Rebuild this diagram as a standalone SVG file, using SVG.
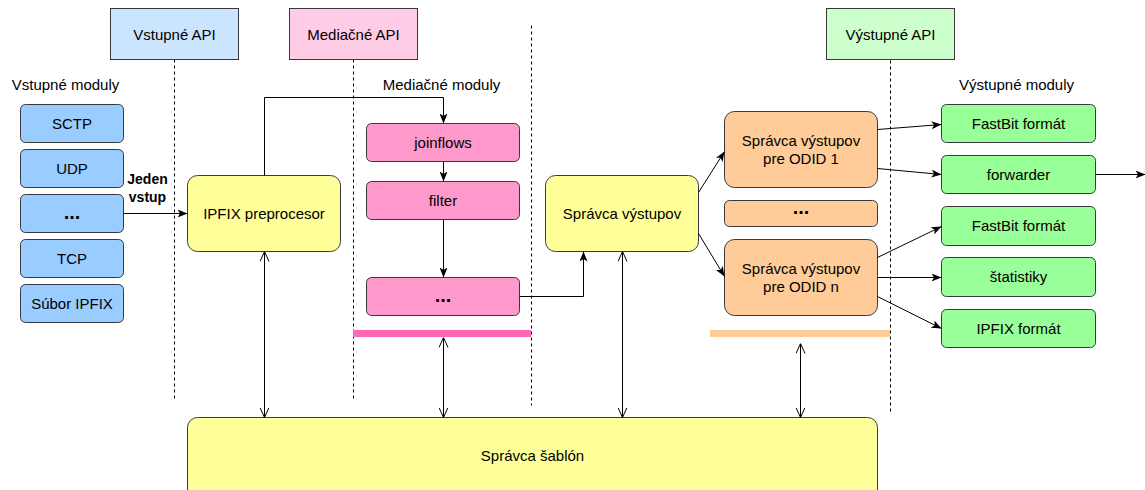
<svg xmlns="http://www.w3.org/2000/svg" width="1145" height="490" viewBox="0 0 1145 490">
<style>
text{font-family:"Liberation Sans",Arial,sans-serif;font-size:15px;fill:#000;text-anchor:middle;dominant-baseline:central}
.b{font-weight:bold}
.dots{font-weight:bold;font-size:20px}
.api{stroke:#36393d;stroke-width:1}
.m{stroke:#36393d;stroke-width:1}
.c{fill:none;stroke:#000;stroke-width:1}
.d{fill:none;stroke:#000;stroke-width:1;stroke-dasharray:3,3}
</style>
<defs>
<marker id="arr" viewBox="0 0 10 8" refX="10" refY="4" markerWidth="10" markerHeight="8" markerUnits="userSpaceOnUse" orient="auto">
<path d="M0,0 L10,4 L0,8 L2.5,4 z" fill="#000"/>
</marker>
<marker id="open" viewBox="0 0 10 10" refX="10" refY="5" markerWidth="10" markerHeight="10" markerUnits="userSpaceOnUse" orient="auto-start-reverse">
<path d="M0,0.5 L10,5 L0,9.5" fill="none" stroke="#000" stroke-width="1"/>
</marker>
</defs>
<rect width="1145" height="490" fill="#fff"/>
<g transform="translate(0.5,0.5)">
<g id="lanes">
<line class="d" x1="174" y1="59" x2="174" y2="400"/>
<line class="d" x1="353" y1="59" x2="353" y2="400"/>
<line class="d" x1="531" y1="25" x2="531" y2="405"/>
<line class="d" x1="890" y1="60" x2="890" y2="414"/>
<rect x="352.5" y="329.5" width="178" height="7" fill="#ff66b3"/>
<rect x="709.5" y="329.5" width="180" height="7" fill="#ffcc99"/>
</g>

<g id="api-vstup"><rect class="api" x="110" y="8" width="128" height="51" fill="#cce5ff"/><text x="174" y="34">Vstupné API</text></g>
<g id="api-media"><rect class="api" x="289" y="8" width="128" height="51" fill="#ffcce6"/><text x="353" y="34">Mediačné API</text></g>
<g id="api-vystup"><rect class="api" x="826" y="8" width="128" height="51" fill="#ccffcc"/><text x="890" y="34">Výstupné API</text></g>

<g id="labels">
<text x="65" y="84">Vstupné moduly</text>
<text x="441" y="84">Mediačné moduly</text>
<text x="1016" y="84">Výstupné moduly</text>
<text class="b" x="147" y="178" style="font-size:14px">Jeden</text>
<text class="b" x="147" y="196" style="font-size:14px">vstup</text>
</g>

<g id="in-sctp"><rect class="m" x="20" y="104" width="103" height="38" rx="5" fill="#99ccff"/><text x="71.5" y="123">SCTP</text></g>
<g id="in-udp"><rect class="m" x="20" y="149" width="103" height="38" rx="5" fill="#99ccff"/><text x="71.5" y="168">UDP</text></g>
<g id="in-dots"><rect class="m" x="20" y="194" width="103" height="38" rx="5" fill="#99ccff"/><text class="dots" x="71.5" y="211">...</text></g>
<g id="in-tcp"><rect class="m" x="20" y="239" width="103" height="38" rx="5" fill="#99ccff"/><text x="71.5" y="258">TCP</text></g>
<g id="in-file"><rect class="m" x="20" y="284" width="103" height="38" rx="5" fill="#99ccff"/><text x="71.5" y="303">Súbor IPFIX</text></g>

<g id="preproc"><rect class="m" x="187" y="175" width="153" height="76" rx="10" fill="#ffff99"/><text x="263.5" y="213">IPFIX preprocesor</text></g>

<g id="med-join"><rect class="m" x="366" y="123" width="153" height="38" rx="5" fill="#ff99cc"/><text x="442.5" y="142">joinflows</text></g>
<g id="med-filter"><rect class="m" x="366" y="181" width="153" height="38" rx="5" fill="#ff99cc"/><text x="442.5" y="200">filter</text></g>
<g id="med-dots"><rect class="m" x="366" y="277" width="153" height="38" rx="5" fill="#ff99cc"/><text class="dots" x="442.5" y="294">...</text></g>

<g id="out-mgr"><rect class="m" x="545" y="175" width="153" height="76" rx="10" fill="#ffff99"/><text x="621.5" y="213">Správca výstupov</text></g>

<g id="odid1"><rect class="m" x="724" y="111" width="153" height="76" rx="10" fill="#ffcc99"/><text x="800.5" y="140">Správca výstupov</text><text x="800.5" y="158">pre ODID 1</text></g>
<g id="odid-dots"><rect class="m" x="724" y="200" width="153" height="26" rx="5" fill="#ffcc99"/><text class="dots" x="800.5" y="206">...</text></g>
<g id="odidn"><rect class="m" x="724" y="239" width="153" height="76" rx="10" fill="#ffcc99"/><text x="800.5" y="268">Správca výstupov</text><text x="800.5" y="286">pre ODID n</text></g>

<g id="o-fb1"><rect class="m" x="941" y="104" width="154" height="38" rx="5" fill="#99ff99"/><text x="1018" y="123">FastBit formát</text></g>
<g id="o-fwd"><rect class="m" x="941" y="155" width="154" height="38" rx="5" fill="#99ff99"/><text x="1018" y="174">forwarder</text></g>
<g id="o-fb2"><rect class="m" x="941" y="206" width="154" height="39" rx="5" fill="#99ff99"/><text x="1018" y="225">FastBit formát</text></g>
<g id="o-stat"><rect class="m" x="941" y="257" width="154" height="39" rx="5" fill="#99ff99"/><text x="1018" y="276">štatistiky</text></g>
<g id="o-ipfix"><rect class="m" x="941" y="309" width="154" height="38" rx="5" fill="#99ff99"/><text x="1018" y="328">IPFIX formát</text></g>

<g id="tmpl"><rect class="m" x="187" y="417" width="690" height="90" rx="10" fill="#ffff99"/><text x="532" y="455">Správca šablón</text></g>

<g id="connectors">
<line class="c" x1="123" y1="213" x2="187" y2="213" marker-end="url(#arr)"/>
<path class="c" d="M264,175 V97 H443 V123" marker-end="url(#arr)"/>
<line class="c" x1="443" y1="161" x2="443" y2="181" marker-end="url(#arr)"/>
<line class="c" x1="443" y1="219" x2="443" y2="277" marker-end="url(#arr)"/>
<path class="c" d="M519,296 H583 V251" marker-end="url(#arr)"/>
<line class="c" x1="698" y1="192" x2="724" y2="151" marker-end="url(#arr)"/>
<line class="c" x1="698" y1="233" x2="724" y2="276" marker-end="url(#arr)"/>
<line class="c" x1="877" y1="129" x2="941" y2="124" marker-end="url(#arr)"/>
<line class="c" x1="877" y1="168" x2="941" y2="174" marker-end="url(#arr)"/>
<line class="c" x1="1095" y1="174" x2="1145" y2="174" marker-end="url(#arr)"/>
<line class="c" x1="877" y1="257" x2="941" y2="226" marker-end="url(#arr)"/>
<line class="c" x1="877" y1="277" x2="941" y2="277" marker-end="url(#arr)"/>
<line class="c" x1="877" y1="296" x2="941" y2="328" marker-end="url(#arr)"/>
<line class="c" x1="264" y1="251" x2="264" y2="417" marker-start="url(#open)" marker-end="url(#open)"/>
<line class="c" x1="443" y1="337" x2="443" y2="417" marker-start="url(#open)" marker-end="url(#open)"/>
<line class="c" x1="622" y1="251" x2="622" y2="417" marker-start="url(#open)" marker-end="url(#open)"/>
<line class="c" x1="800" y1="343" x2="800" y2="417" marker-start="url(#open)" marker-end="url(#open)"/>
</g>
</g>
</svg>
